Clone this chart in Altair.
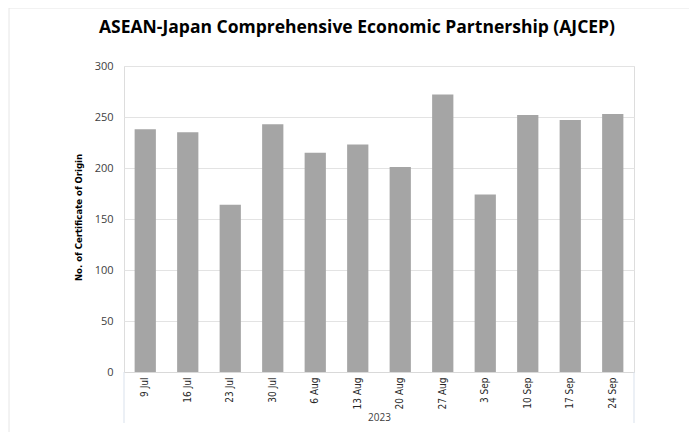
import altair as alt
import pandas as pd

weeks = ["9 Jul", "16 Jul", "23 Jul", "30 Jul", "6 Aug", "13 Aug",
         "20 Aug", "27 Aug", "3 Sep", "10 Sep", "17 Sep", "24 Sep"]
counts = [238, 235, 164, 243, 215, 223, 201, 272, 174, 252, 247, 253]
y_ticks = [0, 50, 100, 150, 200, 250, 300]
year_label = "2023"
title_text = "ASEAN-Japan Comprehensive Economic Partnership (AJCEP)"
y_title = "No. of Certificate of Origin"

df = pd.DataFrame({"week": weeks, "count": counts})

W, H = 510, 306
narrow = "Liberation Sans Narrow, DejaVu Sans Condensed, sans-serif"

bars = alt.Chart(df).mark_bar(color="#a5a5a5").encode(
    x=alt.X("week:N", sort=weeks,
            scale=alt.Scale(paddingInner=0.5, paddingOuter=0.25),
            axis=alt.Axis(title=year_label, labelAngle=-90, labelFont=narrow,
                          labelFontSize=10, labelColor="#262626", labelPadding=5,
                          ticks=False, domainColor="#d9d9d9", grid=False,
                          titleFont="Open Sans", titleFontSize=10,
                          titleFontWeight="normal", titleColor="#404040",
                          titleX=W / 2, titleY=45, titleBaseline="middle")),
    y=alt.Y("count:Q", scale=alt.Scale(domain=[0, 300]),
            axis=alt.Axis(title=y_title, values=y_ticks, labelFont="Open Sans",
                          labelFontSize=11, labelColor="#404040", labelPadding=11,
                          ticks=False, domain=False, gridColor="#e3e3e3",
                          titleFont=narrow, titleFontSize=9.5, titleFontWeight="bold",
                          titleColor="#000000", titleX=-46, titleY=H / 2 - 2,
                          titleAngle=-90, titleAlign="center",
                          titleBaseline="middle")),
)

sep = alt.Chart(pd.DataFrame({"p": [0, 1]})).mark_rule(color="#d9e1ec", strokeWidth=1).encode(
    x=alt.X("p:Q", scale=alt.Scale(domain=[0, 1]), axis=None),
    y=alt.value(H),
    y2=alt.value(H + 51),
)

frame_top = alt.Chart(pd.DataFrame({"p": [0]})).mark_rule(color="#e6e6e6").encode(
    x=alt.value(-115), x2=alt.value(W + 60), y=alt.value(-58))
frame_left = alt.Chart(pd.DataFrame({"p": [0]})).mark_rule(color="#e6e6e6").encode(
    x=alt.value(-115), y=alt.value(-58), y2=alt.value(H + 80))

title = alt.Chart(pd.DataFrame({"t": [title_text]})).mark_text(
    font="Open Sans", fontSize=17.5, fontWeight="bold", color="#000000",
    align="center", baseline="alphabetic").encode(
    text="t:N", x=alt.value(W / 2 - 22), y=alt.value(-33))

chart = alt.layer(bars, sep, frame_top, frame_left, title).resolve_scale(x="independent").properties(
    width=W, height=H,
    autosize=alt.AutoSizeParams(type="none"),
    padding={"left": 116, "top": 58, "right": 55, "bottom": 60},
).configure_view(stroke=None).configure(background="white")

chart.save("out.html", embed_options={"renderer": "svg", "actions": False})
